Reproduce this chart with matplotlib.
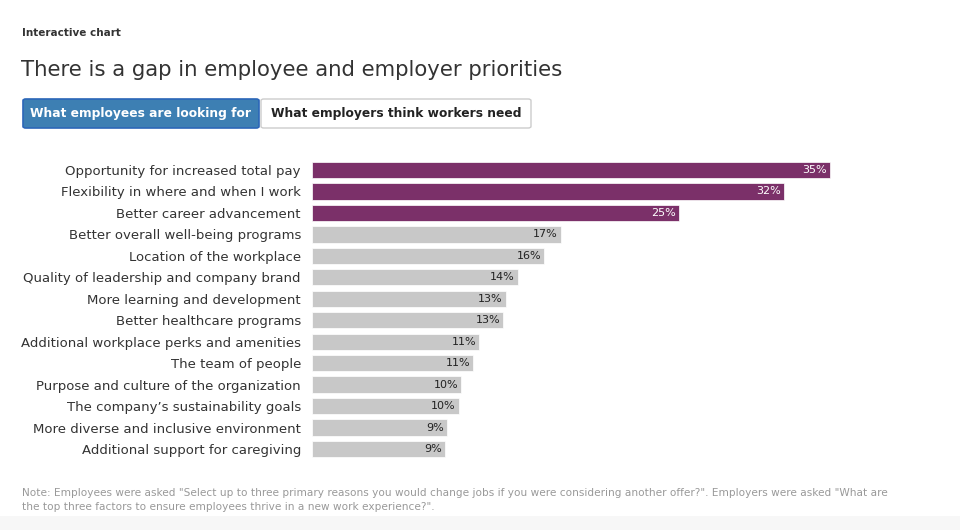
import matplotlib.pyplot as plt
from matplotlib.patches import FancyBboxPatch, Rectangle

categories = [
    "Opportunity for increased total pay",
    "Flexibility in where and when I work",
    "Better career advancement",
    "Better overall well-being programs",
    "Location of the workplace",
    "Quality of leadership and company brand",
    "More learning and development",
    "Better healthcare programs",
    "Additional workplace perks and amenities",
    "The team of people",
    "Purpose and culture of the organization",
    "The company\u2019s sustainability goals",
    "More diverse and inclusive environment",
    "Additional support for caregiving",
]
values = [35.0, 31.9, 24.8, 16.8, 15.7, 13.9, 13.1, 12.9, 11.3, 10.9, 10.1, 9.9, 9.1, 9.0]
top_n = 3  # highlighted bars

purple = "#7b3069"
grey = "#c8c8c8"
txt = "#333333"

W, H = 960, 530
fig = plt.figure(figsize=(9.6, 5.3), dpi=100)

def fx(px):
    return px / W

def fy(py):
    return 1 - py / H

# header
fig.text(fx(22), fy(33), "Interactive chart", fontsize=7.5, fontweight="bold",
         color=txt, va="center", ha="left")
fig.text(fx(21), fy(70), "There is a gap in employee and employer priorities",
         fontsize=15.3, color=txt, va="center", ha="left")

# toggle buttons
b1 = FancyBboxPatch((fx(23), fy(128)), fx(236), 29 / H, boxstyle="round,pad=0,rounding_size=0.003",
                    transform=fig.transFigure, facecolor="#3d7fb3", edgecolor="#2b66b8", lw=1.2)
b2 = FancyBboxPatch((fx(261), fy(128)), fx(270), 29 / H, boxstyle="round,pad=0,rounding_size=0.003",
                    transform=fig.transFigure, facecolor="white", edgecolor="#cccccc", lw=1)
fig.add_artist(b1)
fig.add_artist(b2)
fig.text(fx(141), fy(114), "What employees are looking for", fontsize=8.8, fontweight="bold",
         color="white", ha="center", va="center")
fig.text(fx(396), fy(114), "What employers think workers need", fontsize=8.8, fontweight="bold",
         color="#222222", ha="center", va="center")

# bars
row = (449 - 170) / 13
ax_top = 170 - row / 2
ax_bot = 449 + row / 2
ax = fig.add_axes([fx(312), fy(ax_bot), fx(900 - 312), (ax_bot - ax_top) / H])
ypos = list(range(len(categories)))
colors = [purple if i < top_n else grey for i in ypos]
ax.barh(ypos, values, height=0.76, color=colors, edgecolor="white", linewidth=0.5)
ax.set_xlim(0, 588 / 14.8)
ax.set_ylim(len(categories) - 0.5, -0.5)
ax.set_yticks(ypos)
ax.set_yticklabels(categories, fontsize=9.5, color=txt)
ax.tick_params(axis="y", length=0, pad=8)
ax.set_xticks([])
for s in ax.spines.values():
    s.set_visible(False)

for i, v in enumerate(values):
    ax.text(v - 0.2, i, f"{v:.0f}%", ha="right", va="center", fontsize=8,
            color="white" if i < top_n else "#222222")

# note
note = ('Note: Employees were asked "Select up to three primary reasons you would change jobs if you were '
        'considering another offer?". Employers were asked "What are\nthe top three factors to ensure '
        'employees thrive in a new work experience?".')
fig.text(fx(22), fy(499.5), note, fontsize=7.6, color="#999999", ha="left", va="center", linespacing=1.5)

fig.add_artist(Rectangle((0, 0), 1, 14 / H, transform=fig.transFigure,
                         facecolor="#f7f7f7", edgecolor="none"))

fig.savefig("out.png", dpi=100)
